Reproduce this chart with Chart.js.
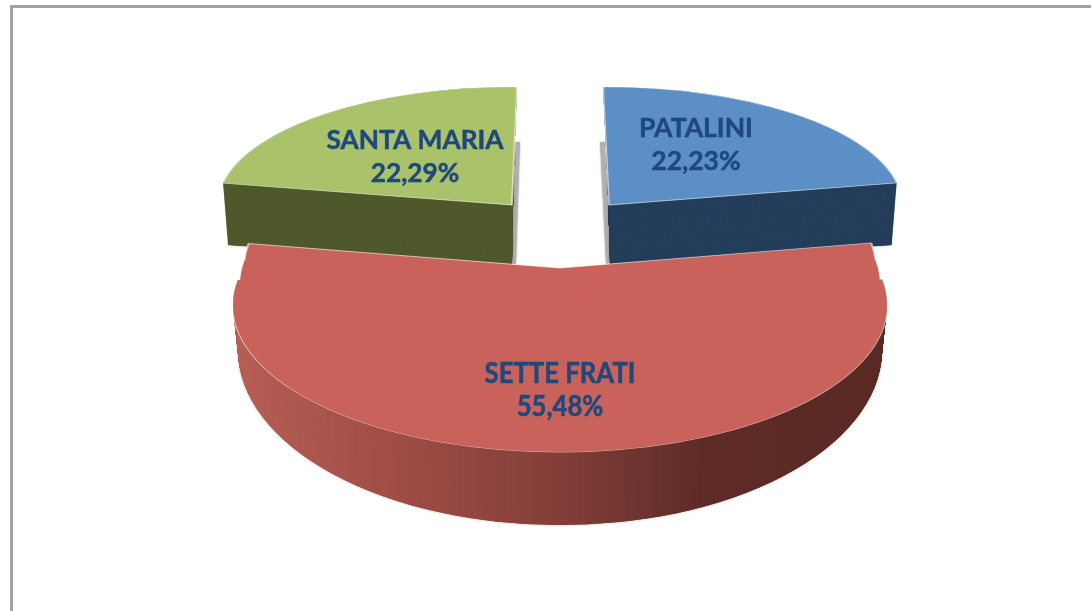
<!DOCTYPE html>
<html>
<head>
<meta charset="utf-8">
<title>Pie</title>
<script src="https://cdn.jsdelivr.net/npm/chart.js@4"></script>
<style>
    html, body { margin: 0; padding: 0; background: #fff; overflow: hidden; }
    #frame { position: absolute; left: 10px; top: 5px; width: 1081px; height: 606px;
             border-left: 3px solid #a3a3a3; border-top: 3px solid #a3a3a3; box-sizing: border-box; }
    #myChart { position: absolute; left: 0; top: 0; filter: blur(0.5px); }
</style>
</head>
<body>
<div id="frame"></div>
<canvas id="myChart" width="1091" height="611"></canvas>
<script>
const categories = ['PATALINI', 'SETTE FRATI', 'SANTA MARIA'];
const shares = [22.23, 55.48, 22.29];

const topColors = ['rgb(91, 143, 197)', 'rgb(202, 98, 92)', 'rgb(170, 195, 107)'];
const wallColors = ['rgb(36, 62, 90)', null, 'rgb(79, 89, 43)'];

// tilted view: each slice gets its own affine map, unit circle -> screen
// o = where the pie centre lands, u / w = where the unit x / y vectors land
const views = [
    {
        top: { o: [609, 205], u: [293.4, -1.7], w: [6, 118] },
        bottom: { o: [610, 264], u: [286.8, 1], w: [3, 116] },
        shadow: { o: [606, 264], u: [286.8, 1], w: [6, 122] },
    },
    {
        top: { o: [560, 305], u: [327, 0], w: [0, 147] },
        // back edges sit higher than the ellipse centre
        rim: { o: [560, 268], u: [316, 0], w: [0, 145] },
        mid: { o: [560, 285], u: [320, 0], w: [0, 146] },
        bottom: { o: [560, 350], u: [322, 0], w: [0, 175] },
    },
    {
        top: { o: [512, 205], u: [294.3, 2], w: [-5, 118] },
        bottom: { o: [512, 264], u: [288.7, -0.7], w: [-2, 116] },
        shadow: { o: [516, 264], u: [288.7, -0.7], w: [-4, 122] },
    },
];

const labelSpots = [[696, 128], [560, 374], [415, 141]];
const labelSizes = [26.5, 25.7, 26.3];
const labelStretch = [1, 1.14, 1];

function applyView(ctx, arc, v) {
    const r = arc.outerRadius;
    const a = v.u[0] / r, b = v.u[1] / r, c = v.w[0] / r, d = v.w[1] / r;
    ctx.setTransform(a, b, c, d, v.o[0] - a * arc.x - c * arc.y, v.o[1] - b * arc.x - d * arc.y);
}

function drawArc(ctx, arc, v, fill, border) {
    const saved = arc.options;
    arc.options = Object.assign({}, saved, {
        backgroundColor: fill,
        borderWidth: border ? 2 : 0,
        borderColor: 'rgba(255, 255, 255, 0.6)',
    });
    ctx.save();
    applyView(ctx, arc, v);
    arc.draw(ctx);
    ctx.restore();
    arc.options = saved;
}

function mix(p, q, t) {
    return {
        o: [p.o[0] + (q.o[0] - p.o[0]) * t, p.o[1] + (q.o[1] - p.o[1]) * t],
        u: [p.u[0] + (q.u[0] - p.u[0]) * t, p.u[1] + (q.u[1] - p.u[1]) * t],
        w: [p.w[0] + (q.w[0] - p.w[0]) * t, p.w[1] + (q.w[1] - p.w[1]) * t],
    };
}

function drawWall(ctx, arc, i, fill) {
    const view = views[i];
    const steps = 80;
    // soft grey edge under the solid
    ctx.save();
    ctx.shadowColor = 'rgba(0, 0, 0, 0.3)';
    ctx.shadowBlur = 3;
    drawArc(ctx, arc, view.bottom, fill, false);
    ctx.restore();
    for (let s = steps; s >= 0; s--) {
        drawArc(ctx, arc, mix(view.top, view.bottom, s / steps), fill, false);
    }
}

const tiltedPie = {
    id: 'tiltedPie',
    beforeDatasetsDraw(chart) {
        const ctx = chart.ctx;
        const arcs = chart.getDatasetMeta(0).data;

        // back slices first, the big one lies in front of them
        [0, 2].forEach((i) => {
            ctx.save();
            ctx.shadowColor = 'rgba(150, 150, 150, 0.8)';
            ctx.shadowBlur = 2;
            drawArc(ctx, arcs[i], views[i].shadow, '#b0b0b0', false);
            ctx.restore();
            drawWall(ctx, arcs[i], i, wallColors[i]);
            drawArc(ctx, arcs[i], views[i].top, topColors[i], true);
        });

        const red = arcs[1];
        const shade = ctx.createLinearGradient(red.x - red.outerRadius, 0, red.x + red.outerRadius, 0);
        shade.addColorStop(0, '#b55e55');
        shade.addColorStop(0.25, '#9f4d46');
        shade.addColorStop(0.5, '#823e38');
        shade.addColorStop(0.72, '#5e2b26');
        shade.addColorStop(1, '#5a2924');
        drawWall(ctx, red, 1, shade);
        drawArc(ctx, red, views[1].top, topColors[1], true);
        drawArc(ctx, red, views[1].mid, topColors[1], true);
        drawArc(ctx, red, views[1].rim, topColors[1], true);
        drawArc(ctx, red, views[1].mid, topColors[1], false);
        drawArc(ctx, red, views[1].top, topColors[1], false);

        return false;
    },
    afterDraw(chart) {
        const ctx = chart.ctx;
        ctx.fillStyle = '#1f497d';
        ctx.strokeStyle = '#1f497d';
        ctx.lineWidth = 0.5;
        ctx.textAlign = 'center';
        ctx.textBaseline = 'middle';
        categories.forEach((name, i) => {
            const [x, y] = labelSpots[i];
            const percent = shares[i].toFixed(2).replace('.', ',') + '%';
            ctx.save();
            ctx.font = 'bold ' + labelSizes[i] + 'px Lato';
            ctx.translate(x, y);
            ctx.scale(1, labelStretch[i]);
            ctx.fillText(name, 0, 0);
            ctx.strokeText(name, 0, 0);
            ctx.fillText(percent, 0, 33 / labelStretch[i]);
            ctx.strokeText(percent, 0, 33 / labelStretch[i]);
            ctx.restore();
        });
    },
};

const myChart = new Chart(document.getElementById('myChart'), {
    type: 'pie',
    data: {
        labels: categories,
        datasets: [{ data: shares, backgroundColor: topColors, borderWidth: 0 }],
    },
    options: {
        responsive: false,
        animation: false,
        plugins: { legend: { display: false }, tooltip: { enabled: false } },
    },
    plugins: [tiltedPie],
});
</script>
</body>
</html>
